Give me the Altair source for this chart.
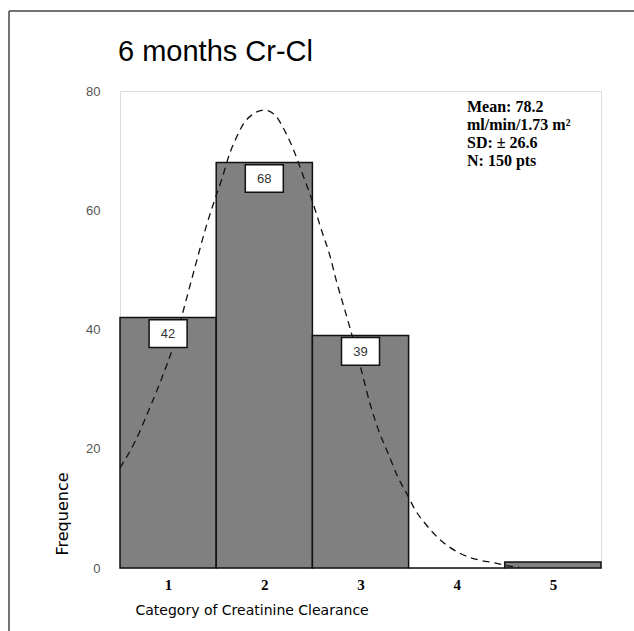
import altair as alt
import pandas as pd

# ---- data ----
categories = [1, 2, 3, 4, 5]
counts = [42, 68, 39, 0, 1]

curve_x = [0.5, 0.65, 0.8, 0.95, 1.05, 1.13, 1.23, 1.33, 1.40, 1.49, 1.56,
           1.64, 1.71, 1.78, 1.89, 2.0, 2.11, 2.2, 2.3, 2.39, 2.5, 2.6, 2.68,
           2.75, 2.82, 2.89, 3.01, 3.1, 3.19, 3.29, 3.39, 3.48, 3.57, 3.67,
           3.83, 4.03, 4.24, 4.38, 4.55, 4.65]
curve_y = [16.8, 21.0, 26.5, 32.5, 37.0, 41.5, 47.5, 53.5, 57.5, 62.0, 65.3,
           69.5, 72.2, 74.4, 76.2, 76.8, 76.0, 73.7, 70.3, 66.4, 61.5, 56.4, 52.5,
           48.1, 44.2, 40.3, 33.1, 27.5, 23.0, 19.1, 15.2, 12.5, 9.7, 7.5,
           4.7, 2.5, 1.3, 0.9, 0.3, 0.1]

stats_lines = ["Mean: 78.2", "ml/min/1.73 m²", "SD: ± 26.6", "N: 150 pts"]
title_text = "6 months Cr-Cl"
x_title = "Category of Creatinine Clearance"
y_title = "Frequence"

bars = pd.DataFrame({"cat": categories, "count": counts})
curve = pd.DataFrame({"x": curve_x, "y": curve_y})

W, H = 481, 477
xscale = alt.Scale(domain=[0.5, 5.5], nice=False, zero=False, padding=0)
yscale = alt.Scale(domain=[0, 80], nice=False)

base = alt.Chart(bars)

bar_layer = base.transform_calculate(
    lo="datum.cat - 0.5", hi="datum.cat + 0.5"
).mark_rect(fill="#808080", stroke="#111111", strokeWidth=1.5).encode(
    x=alt.X("lo:Q", scale=xscale,
            axis=alt.Axis(values=categories, format="d", ticks=False, domain=False, grid=False,
                          labelFont="Liberation Serif", labelFontWeight="bold", labelFontSize=15,
                          labelColor="#000000", labelPadding=9,
                          title=x_title, titleFont="DejaVu Sans", titleFontSize=14,
                          titleFontWeight="normal", titleColor="#000000",
                          titleAlign="left", titleX=15, titleY=46, titleBaseline="alphabetic")),
    x2="hi:Q",
    y=alt.Y("count:Q", scale=yscale,
            axis=alt.Axis(values=[0, 20, 40, 60, 80], ticks=False, domain=False, grid=False,
                          labelFont="Liberation Sans", labelFontSize=13, labelColor="#555555",
                          labelPadding=20,
                          title=y_title, titleFont="DejaVu Sans", titleFontSize=16,
                          titleFontWeight="normal", titleColor="#000000",
                          titleAngle=270, titleAlign="left", titleX=-53, titleY=464,
                          titleBaseline="alphabetic")),
    y2=alt.datum(0),
)

box_layer = base.transform_filter("datum.count >= 5").transform_calculate(
    top="datum.count - 0.35", bot="datum.count - 5.0"
).mark_bar(fill="white", stroke="#111111", strokeWidth=1.5, size=38).encode(
    x=alt.X("cat:Q", scale=xscale),
    y=alt.Y("top:Q", scale=yscale),
    y2="bot:Q",
)

label_layer = base.transform_filter("datum.count >= 5").transform_calculate(
    mid="datum.count - 2.7"
).mark_text(font="Liberation Sans", fontSize=13, color="#333333",
            align="center", baseline="middle").encode(
    x=alt.X("cat:Q", scale=xscale),
    y=alt.Y("mid:Q", scale=yscale),
    text=alt.Text("count:Q"),
)

curve_layer = alt.Chart(curve).mark_line(
    color="#111111", strokeWidth=1.3, strokeDash=[7, 5], interpolate="monotone"
).encode(
    x=alt.X("x:Q", scale=xscale),
    y=alt.Y("y:Q", scale=yscale),
)

one = alt.Chart(pd.DataFrame({"a": [0]}))
stats_layer = one.mark_text(
    font="Liberation Serif", fontWeight="bold", fontSize=16, color="#000000",
    align="left", baseline="alphabetic", lineHeight=18
).encode(x=alt.value(347), y=alt.value(21), text=alt.value(stats_lines))

title_layer = one.mark_text(
    font="Liberation Sans", fontSize=29, color="#000000",
    align="left", baseline="alphabetic"
).encode(x=alt.value(-2), y=alt.value(-30), text=alt.value(title_text))

frame_top = one.mark_rule(color="#444444", strokeWidth=1.5).encode(
    x=alt.value(-111), x2=alt.value(520), y=alt.value(-80))
frame_left = one.mark_rule(color="#444444", strokeWidth=1.5).encode(
    x=alt.value(-111), y=alt.value(-80), y2=alt.value(545))

chart = alt.layer(
    bar_layer, curve_layer, box_layer, label_layer, stats_layer, title_layer,
    frame_top, frame_left
).properties(
    width=W, height=H,
    autosize=alt.AutoSizeParams(type="none"),
    padding={"left": 120, "top": 91, "right": 33, "bottom": 63},
).configure_view(stroke="#111111", strokeWidth=1.5).configure(background="white")

chart.save("out.html", embed_options={"renderer": "svg", "actions": False})
